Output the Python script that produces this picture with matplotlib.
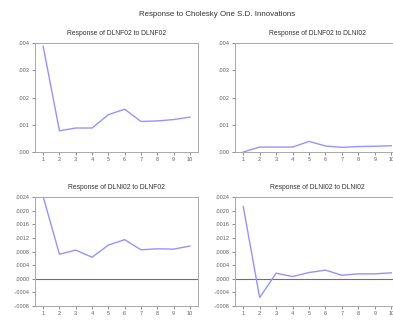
import matplotlib
matplotlib.use("Agg")
import matplotlib.pyplot as plt
from matplotlib.ticker import FuncFormatter

plt.rcParams['font.family'] = ['Liberation Sans', 'DejaVu Sans']

periods = [1, 2, 3, 4, 5, 6, 7, 8, 9, 10]
nf_to_nf = [0.00388, 0.00078, 0.00088, 0.00088, 0.00137, 0.00157, 0.00112, 0.00114, 0.00119, 0.00128]
nf_to_ni = [0.0, 0.00018, 0.00018, 0.00018, 0.00039, 0.00022, 0.00017, 0.00020, 0.00021, 0.00023]
ni_to_nf = [0.00242, 0.00072, 0.00084, 0.00063, 0.00099, 0.00115, 0.00085, 0.00088, 0.00087, 0.00096]
ni_to_ni = [0.00213, -0.00056, 0.00016, 0.00006, 0.00018, 0.00025, 0.00010, 0.00014, 0.00014, 0.00017]

titles = ["Response of DLNF02 to DLNF02", "Response of DLNF02 to DLNI02",
          "Response of DLNI02 to DLNF02", "Response of DLNI02 to DLNI02"]
top_ticks = [0.000, 0.001, 0.002, 0.003, 0.004]
bot_ticks = [-0.0008, -0.0004, 0.0, 0.0004, 0.0008, 0.0012, 0.0016, 0.0020, 0.0024]

W, H = 393, 320
fig = plt.figure(figsize=(W / 100, H / 100), dpi=100)

def fmt_dec(nd):
    def f(v, pos):
        s = f"{abs(v):.{nd}f}"
        s = s[1:] if s.startswith("0") else s
        return ("-" if v < -1e-12 else "") + s
    return FuncFormatter(f)

def box(l, t, r, b):
    return [l / W, 1 - b / H, (r - l) / W, (b - t) / H]

specs = [
    (box(35, 43, 198, 152), nf_to_nf, top_ticks, 3, (0, 0.004), False),
    (box(235, 43, 399.5, 152), nf_to_ni, top_ticks, 3, (0, 0.004), False),
    (box(35, 197.3, 198, 305.7), ni_to_nf, bot_ticks, 4, (-0.0008, 0.0024), True),
    (box(235, 197.3, 399.5, 305.7), ni_to_ni, bot_ticks, 4, (-0.0008, 0.0024), True),
]

gray = "#a8a8a8"
for (pos, vals, ticks, nd, ylim, zline), title in zip(specs, titles):
    ax = fig.add_axes(pos)
    if zline:
        ax.axhline(0, color="#707070", lw=0.8, zorder=1)
    ax.plot(periods, vals, color="#9494ff", lw=1.0, zorder=2)
    ax.set_xlim(0.5, 10.5)
    ax.set_ylim(*ylim)
    ax.set_xticks(periods)
    ax.set_yticks(ticks)
    ax.yaxis.set_major_formatter(fmt_dec(nd))
    ax.tick_params(axis='both', labelsize=4.0, colors="#606060", length=2,
                   width=0.5, pad=1.8, direction='out')
    for s in ax.spines.values():
        s.set_color(gray)
        s.set_linewidth(0.7)
    ax.set_title(title, fontsize=4.9, color="#333333", pad=6)

fig.text(217 / W, 1 - 14 / H, "Response to Cholesky One S.D. Innovations",
         ha='center', va='center', fontsize=5.7, color="#333333")

fig.savefig("out.png", dpi=100)
